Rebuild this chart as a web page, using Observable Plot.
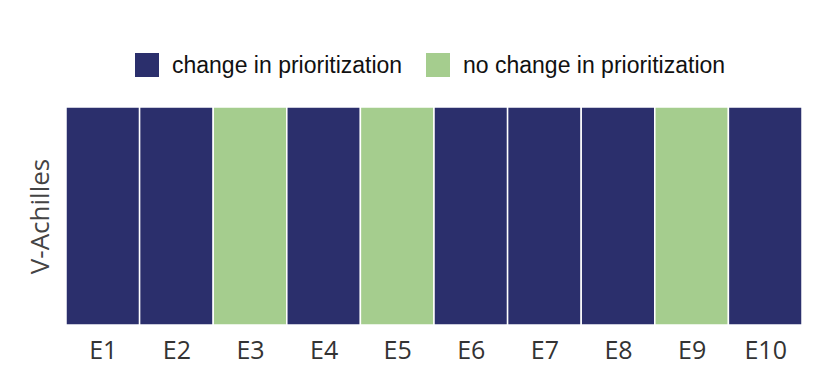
<!DOCTYPE html>
<html>
<head>
<meta charset="utf-8">
<script src="https://cdn.jsdelivr.net/npm/d3@7"></script>
<script src="https://cdn.jsdelivr.net/npm/@observablehq/plot@0.6"></script>
<style>
  body { margin: 0; background: #fff; width: 830px; height: 381px; overflow: hidden; }
  #legend { height: 90px; position: relative; font-family: "Liberation Sans", Arial, sans-serif; font-size: 23px; color: #111; }
  .item { position: absolute; top: 53px; display: flex; align-items: center; height: 24px; }
  .sw { width: 24px; height: 24px; margin-right: 13px; }
</style>
</head>
<body>
<div id="legend"></div>
<div id="chart"></div>
<script>
const experiments = ["E1", "E2", "E3", "E4", "E5", "E6", "E7", "E8", "E9", "E10"];
const method = "V-Achilles";
const outcome = ["change in prioritization", "change in prioritization", "no change in prioritization",
  "change in prioritization", "no change in prioritization", "change in prioritization",
  "change in prioritization", "change in prioritization", "no change in prioritization", "change in prioritization"];
const legendLabels = ["change in prioritization", "no change in prioritization"];
const legendColors = ["#2b2f6c", "#a5cd8e"];

const data = experiments.map((e, i) => ({experiment: e, method, outcome: outcome[i]}));

// legend
const legend = document.getElementById("legend");
const lefts = [135, 426];
legendLabels.forEach((l, i) => {
  const it = document.createElement("div");
  it.className = "item";
  it.style.left = lefts[i] + "px";
  it.innerHTML = `<div class="sw" style="background:${legendColors[i]}"></div><span>${l}</span>`;
  legend.appendChild(it);
});

const chart = Plot.plot({
  width: 830,
  height: 291,
  marginTop: 17,
  marginBottom: 56,
  marginLeft: 66,
  marginRight: 28,
  style: {fontFamily: "'Open Sans', sans-serif", background: "#fff"},
  x: {domain: experiments, padding: 0, round: false, label: null},
  y: {domain: [method], padding: 0, round: false, axis: null},
  color: {domain: legendLabels, range: legendColors},
  marks: [
    Plot.cell(data, {x: "experiment", y: "method", fill: "outcome", stroke: "white", strokeWidth: 1.5, inset: 0}),
    Plot.axisX({tickSize: 0, tickPadding: 16, fontSize: 25, fill: "#333", label: null}),
    Plot.text([method], {frameAnchor: "left", textAnchor: "middle", lineAnchor: "middle", dx: -26, rotate: -90, fontSize: 26, fill: "#444", text: d => d})
  ]
});
document.getElementById("chart").appendChild(chart);
</script>
</body>
</html>
